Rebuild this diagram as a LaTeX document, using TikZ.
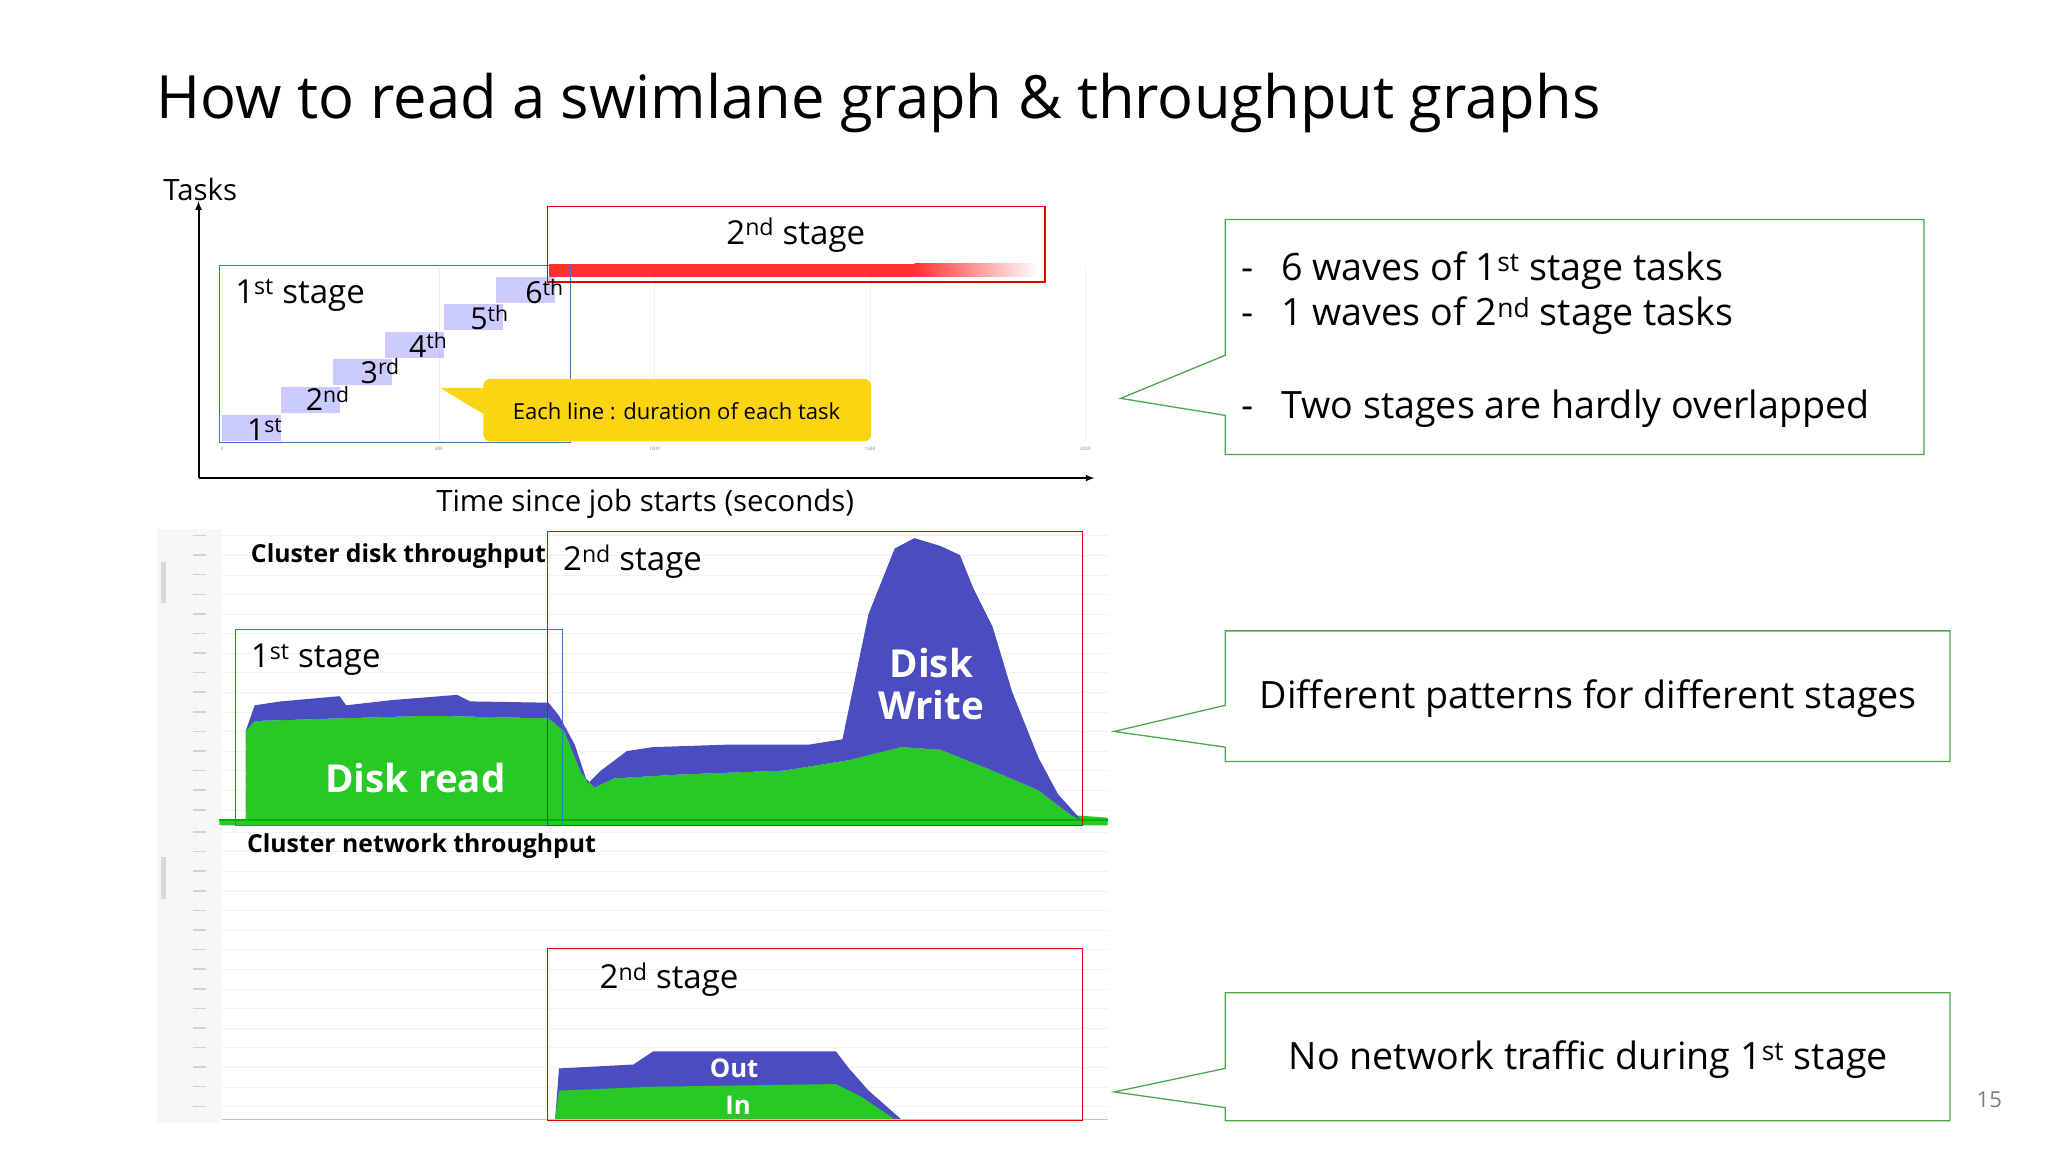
\documentclass[tikz,border=0pt]{standalone}
\usepackage{fontspec}
\setmainfont{Open Sans}
\begin{document}
\begin{tikzpicture}[x=0.05cm,y=-0.05cm,
  gbox/.style={draw=green!50!black!70!white,line width=1.4pt,fill=white},
  bluebox/.style={draw=blue!50!cyan!70!black!80!white,line width=1pt},
  redbox/.style={draw=red!90!black,line width=1.4pt},
  lbl/.style={font=\fontsize{36}{40}\selectfont,anchor=west,inner sep=0},
  big/.style={font=\fontsize{41}{46}\selectfont,inner sep=0},
  axl/.style={font=\fontsize{32}{36}\selectfont,inner sep=0},
  chartt/.style={font=\bfseries\fontsize{27}{34}\selectfont,anchor=west,inner sep=0},
  wave/.style={fill=blue!45!white,opacity=0.45},
  dgreen/.style={fill=green!75!black!85!white,draw=none},
  dblue/.style={fill=blue!65!black!70!white,draw=none},
  bigw/.style={text=white,font=\bfseries\fontsize{42}{46}\selectfont,align=center,inner sep=0}]
\useasboundingbox (0,0) rectangle (1568,882);
\fill[white] (0,0) rectangle (1568,882);
% title
\node[anchor=west,inner sep=0,font=\fontsize{65}{70}\selectfont] (title) at (120,79) {How to read a swimlane graph \& throughput graphs};
% swimlane axes
\node[axl,anchor=west] (tasks) at (125,145) {Tasks};
\coordinate (org) at (152,366);
\coordinate (ytop) at (152,154);
\coordinate (xend) at (838,366);
\draw[line width=2.2pt,-latex] (org) -- (ytop);
\draw[line width=2.2pt,-latex] (org) -- (xend);
\node[axl] (xlab) at (494,386) {Time since job starts (seconds)};
\foreach \x/\t in {170/0,336/500,501/1000,666/1500,831/2000}{
  \draw[gray!12] (\x,205) -- (\x,338);
  \node[font=\fontsize{5}{6}\selectfont,text=gray] at (\x,344) {\t};}
% waves
\foreach \x/\y in {170/328,215/306,255/285,295/264,340/243,380/222}{
  \fill[wave] (\x,\y-10) rectangle (\x+45,\y+10);}
\fill[red!80] (420,202) rectangle (700,212);
\shade[left color=red!80,right color=white] (700,202) rectangle (795,212);
\draw[bluebox] (168,203) rectangle (437,339);
\draw[redbox] (419,158) rectangle (800,216);
\node[lbl] (s1) at (180,226) {1\textsuperscript{st} stage};
\node[lbl] (s2) at (556,180) {2\textsuperscript{nd} stage};
\foreach \x/\y/\s/\t in {189/329/1/st,234/305/2/nd,276/284/3/rd,313/264/4/th,360/243/5/th,402/223/6/th}{
  \node[lbl,font=\fontsize{33}{36}\selectfont] at (\x,\y) {\s\textsuperscript{\t}};}
% yellow callout
\fill[yellow!70!orange!95!white,rounded corners=8] (370,290) rectangle (667,338);
\fill[yellow!70!orange!95!white] (337,297) -- (372,297) -- (372,318) -- cycle;
\node[font=\fontsize{24}{28}\selectfont,inner sep=0] (yc) at (518,315) {Each line : duration of each task};
% disk chart
\fill[gray!6] (120,405) rectangle (170,632);
\foreach \y in {410,425,...,625}{\draw[gray!10] (170,\y) -- (848,\y);
  \fill[gray!35] (148,\y-0.6) rectangle (158,\y+0.6);}
\fill[gray!30] (123,430) rectangle (127,462);
\fill[dgreen] (168,628) -- (188,628) -- (188,560) -- (195,552) -- (260,550) -- (330,548) -- (420,550) -- (432,560) -- (445,592) -- (455,603) -- (470,596) -- (520,593) -- (600,590) -- (650,582) -- (690,572) -- (720,574) -- (760,590) -- (795,605) -- (820,624) -- (848,626) -- (848,632) -- (168,632) -- cycle;
\fill[dblue] (188,560) -- (195,540) -- (215,537) -- (260,533) -- (265,540) -- (300,536) -- (350,532) -- (360,537) -- (420,538) -- (428,548) -- (440,570) -- (450,600) -- (460,590) -- (480,575) -- (500,572) -- (560,570) -- (620,570) -- (645,566) -- (665,470) -- (685,420) -- (700,412) -- (720,418) -- (735,425) -- (745,450) -- (760,480) -- (775,530) -- (795,580) -- (810,608) -- (828,628) -- (820,624) -- (795,605) -- (760,590) -- (720,574) -- (690,572) -- (650,582) -- (600,590) -- (520,593) -- (470,596) -- (455,603) -- (445,592) -- (432,560) -- (420,550) -- (330,548) -- (260,550) -- (195,552) -- cycle;
\draw[green!70!black,line width=2pt] (168,628) -- (848,628);
\node[chartt] (cdt) at (192,426) {Cluster disk throughput};
\draw[bluebox] (180,482) rectangle (431,632);
\draw[redbox] (419,407) rectangle (829,632);
\node[lbl] (d1) at (192,505) {1\textsuperscript{st} stage};
\node[lbl] (d2) at (431,430) {2\textsuperscript{nd} stage};
\node[bigw] (dr) at (318,596) {Disk read};
\node[bigw] (dw) at (713,524) {Disk\\Write};
% network chart
\fill[gray!6] (120,632) rectangle (170,860);
\foreach \y in {637,652,...,857}{\draw[gray!10] (170,\y) -- (848,\y);
  \fill[gray!35] (148,\y-0.6) rectangle (158,\y+0.6);}
\fill[gray!30] (123,656) rectangle (127,688);
\fill[dblue] (425,857) -- (428,818) -- (485,815) -- (500,805) -- (640,805) -- (650,818) -- (665,835) -- (690,857) -- cycle;
\fill[dgreen] (425,857) -- (428,835) -- (500,832) -- (640,830) -- (660,840) -- (685,857) -- cycle;
\draw[green!70!black!40!white,line width=1pt] (170,857) -- (848,857);
\node[chartt] (cnt) at (189,648) {Cluster network throughput};
\draw[redbox] (419,726) rectangle (829,858);
\node[lbl] (n2) at (459,750) {2\textsuperscript{nd} stage};
\node[bigw,font=\bfseries\fontsize{28}{30}\selectfont] (out) at (562,818) {Out};
\node[bigw,font=\bfseries\fontsize{28}{30}\selectfont] (in) at (565,846) {In};
% callouts
\draw[gbox] (938,168) -- (1473,168) -- (1473,348) -- (938,348) -- (938,318) -- (858,305) -- (938,272) -- cycle;
\node[big,anchor=west] (c1a) at (950,207) {-\hspace{0.75em}6 waves of 1\textsuperscript{st} stage tasks};
\node[big,anchor=west] (c1b) at (950,242) {-\hspace{0.75em}1 waves of 2\textsuperscript{nd} stage tasks};
\node[big,anchor=west] (c1c) at (950,313) {-\hspace{0.75em}Two stages are hardly overlapped};
\draw[gbox] (938,483) -- (1493,483) -- (1493,583) -- (938,583) -- (938,572) -- (853,560) -- (938,540) -- cycle;
\node[big] (c2) at (1216,535) {Different patterns for different stages};
\draw[gbox] (938,760) -- (1493,760) -- (1493,858) -- (938,858) -- (938,848) -- (853,836) -- (938,818) -- cycle;
\node[big] (c3) at (1216,811) {No network traffic during 1\textsuperscript{st} stage};
\node[font=\fontsize{24}{28}\selectfont,text=gray] (pg) at (1523,842) {15};
\end{tikzpicture}
\end{document}
